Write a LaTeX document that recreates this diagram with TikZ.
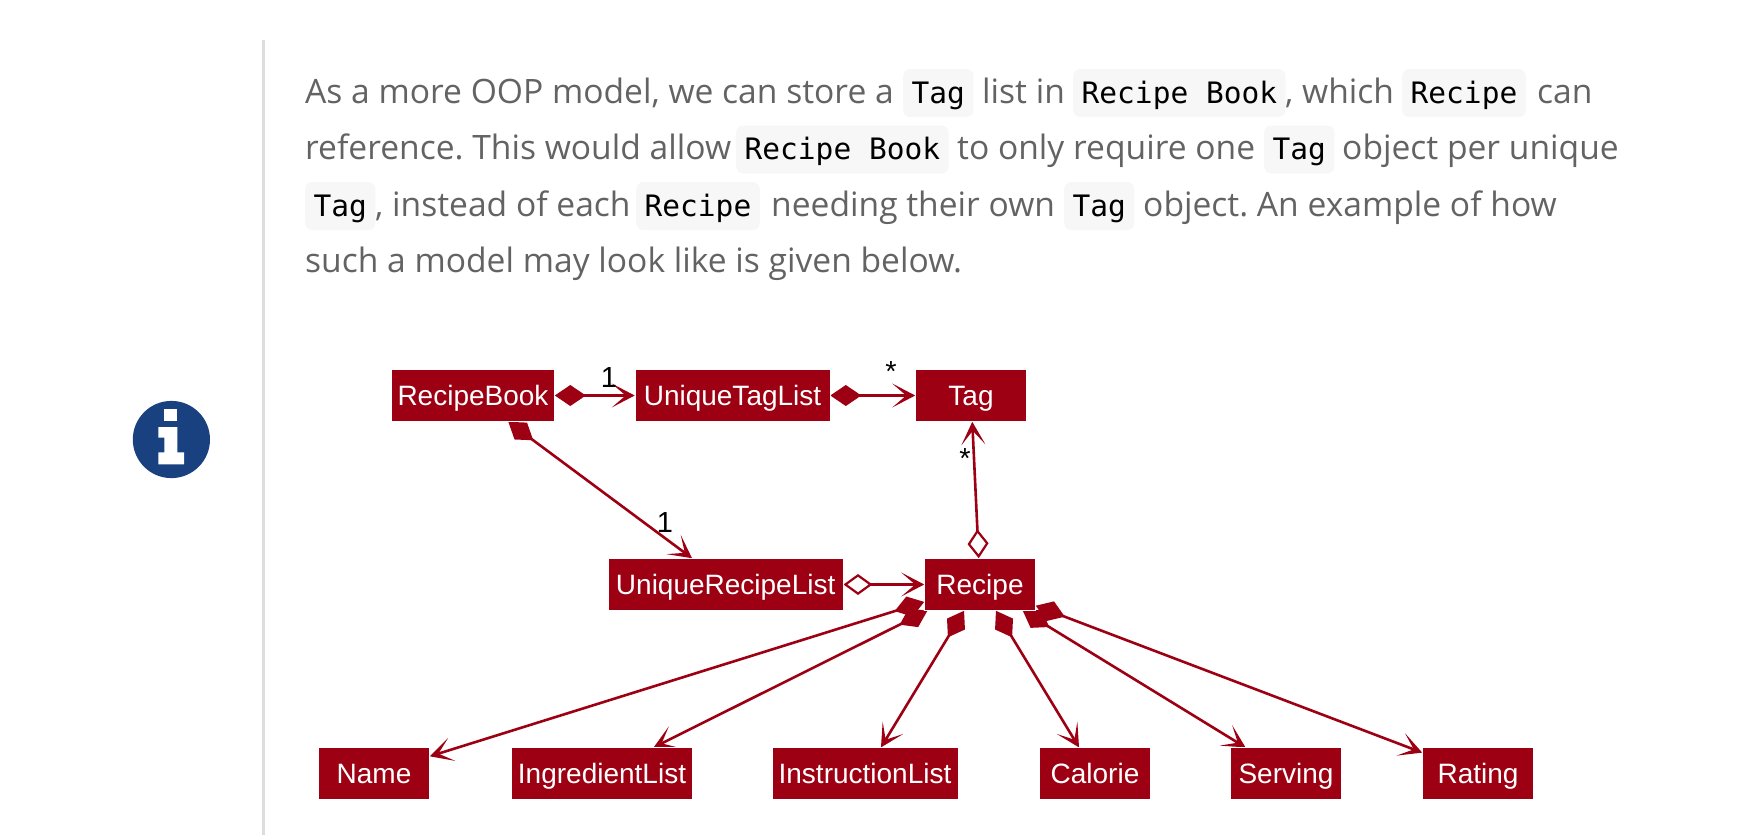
\documentclass[tikz,border=0pt]{standalone}
\usepackage{fontspec}
\setmainfont{Open Sans}
\newfontfamily\umlfont{Liberation Sans}
\newfontfamily\codefont{DejaVu Sans Mono}
\usetikzlibrary{arrows.meta}
\usetikzlibrary{backgrounds}

\definecolor{umlred}{HTML}{9D0012}
\definecolor{bodygray}{HTML}{636363}
\definecolor{pillgray}{HTML}{F7F7F7}
\definecolor{infoblue}{HTML}{19407F}
\definecolor{bargray}{HTML}{DDDDDD}

\tikzset{
    umlbox/.style={fill=umlred,draw=white,line width=0.6pt,text=white,inner sep=0pt,
        minimum height=52pt,text height=22pt,text depth=3pt,font=\umlfont\fontsize{28}{30}\selectfont},
    hasa/.style={umlred,line width=2.6pt,
        {Diamond[length=31pt,width=21pt,line width=0pt,fill=umlred]}-{Stealth[length=23pt,width=24pt,inset=14pt,line width=0pt]}},
    holds/.style={umlred,line width=2.6pt,
        {Diamond[open,length=29pt,width=21pt,line width=2.2pt]}-{Stealth[length=23pt,width=24pt,inset=14pt,line width=0pt]}},
    mult/.style={text=black,inner sep=0pt,font=\umlfont\fontsize{29}{30}\selectfont},
    para/.style={anchor=base west,inner sep=0pt,text=bodygray,font=\fontsize{33.6}{36}\selectfont\frenchspacing},
    code/.style={anchor=base west,fill=pillgray,rounded corners=7pt,text=black,
        inner xsep=8.5pt,inner ysep=0pt,text height=34pt,text depth=14pt,
        font=\codefont\fontsize{29.5}{30}\selectfont},
}

\begin{document}
\begin{tikzpicture}[x=1pt,y=-1pt]
    \useasboundingbox (0,0) rectangle (1753,835);

    % side bar and info icon
    \fill[bargray] (262,40) rectangle (264.5,835);
    \fill[infoblue] (171.4,439.5) circle (38.6);
    \fill[white] (164.3,408.7) rectangle (177.4,421);
    \fill[white] (158.4,427) -- (177.4,427) -- (177.4,452.3) -- (184,452.3) -- (184,464.4)
        -- (158.4,464.4) -- (158.4,452.3) -- (164.3,452.3) -- (164.3,437.5) -- (158.4,437.5) -- cycle;

    % paragraph, line by line
    \node[para] (lineAa) at (305,103) {As a more OOP model, we can store a};
    \node[code] (lineAb) at (903,103) {Tag};
    \node[para] (lineAc) at (982,103) {list in};
    \node[code] (lineAd) at (1073,103) {Recipe Book};
    \node[para] (lineAe) at (1285,103) {, which};
    \node[code] (lineAf) at (1402,103) {Recipe};
    \node[para] (lineAg) at (1537,103) {can};

    \node[para] (lineBa) at (305,159.5) {reference. This would allow};
    \node[code] (lineBb) at (736,159.5) {Recipe Book};
    \node[para] (lineBc) at (957,159.5) {to only require one};
    \node[code] (lineBd) at (1264,159.5) {Tag};
    \node[para] (lineBe) at (1342,159.5) {object per unique};

    \node[code] (lineCa) at (305,216) {Tag};
    \node[para] (lineCb) at (375,216) {, instead of each};
    \node[code] (lineCc) at (636,216) {Recipe};
    \node[para] (lineCd) at (771,216) {needing their own};
    \node[code] (lineCe) at (1064,216) {Tag};
    \node[para] (lineCf) at (1143,216) {object. An example of how};

    \node[para] (lineDa) at (305,272.5) {such a model may look like is given below.};

    % classes
    \node[umlbox,minimum width=163pt] (RecipeBook) at (473,395.5) {RecipeBook};
    \node[umlbox,minimum width=195pt] (UniqueTagList) at (732.5,395.5) {UniqueTagList};
    \node[umlbox,minimum width=111pt] (Tag) at (971,395.5) {Tag};
    \node[umlbox,minimum width=235pt] (UniqueRecipeList) at (725.7,584.5) {UniqueRecipeList};
    \node[umlbox,minimum width=111pt] (Recipe) at (980,584.5) {Recipe};
    \node[umlbox,minimum width=111pt] (Name) at (374,773.7) {Name};
    \node[umlbox,minimum width=181pt] (IngredientList) at (602,773.7) {IngredientList};
    \node[umlbox,minimum width=186pt] (InstructionList) at (865,773.7) {InstructionList};
    \node[umlbox,minimum width=111pt] (Calorie) at (1095,773.7) {Calorie};
    \node[umlbox,minimum width=111pt] (Serving) at (1286,773.7) {Serving};
    \node[umlbox,minimum width=111pt] (Rating) at (1478,773.7) {Rating};

    % multiplicities
    \node[mult] (multBook) at (609,377.5) {1};
    \node[mult] (multList) at (665,523) {1};
    \node[mult] (multTag) at (891,372) {*};
    \node[mult] (multRecipe) at (965,459) {*};

    % associations go under the boxes
    \begin{scope}[on background layer]
        \draw[hasa] (RecipeBook) -- (UniqueTagList);
        \draw[hasa] (UniqueTagList) -- (Tag);
        \draw[hasa] (RecipeBook) -- (UniqueRecipeList.142);
        \draw[holds] (Recipe) -- (Tag);
        \draw[holds] (UniqueRecipeList) -- (Recipe);
        \foreach \part in {Name,IngredientList.27,InstructionList,Calorie,Serving.147,Rating}
            \draw[hasa] (Recipe) -- (\part);
    \end{scope}
\end{tikzpicture}
\end{document}
